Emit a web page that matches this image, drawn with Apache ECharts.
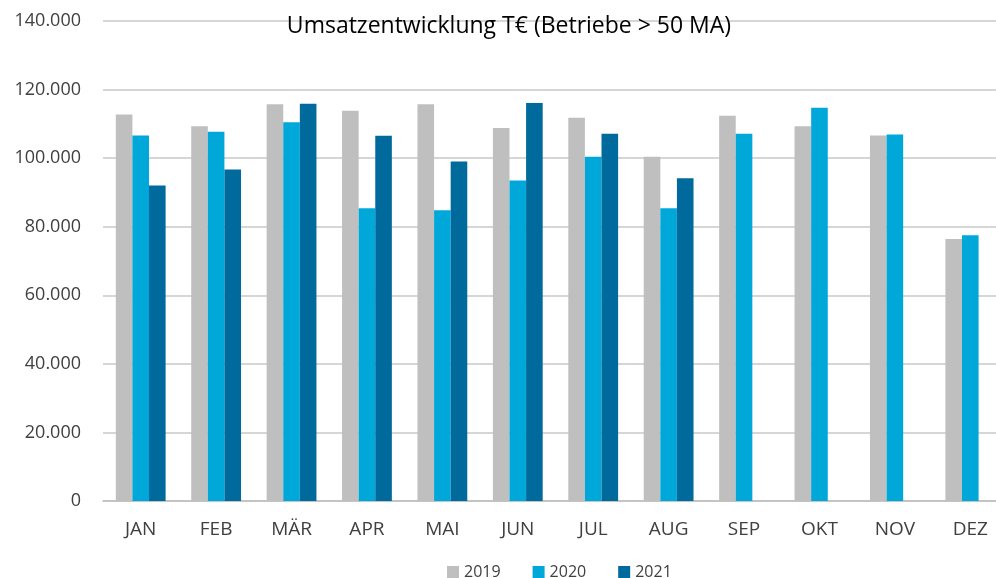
<!DOCTYPE html>
<html>
<head>
<meta charset="utf-8">
<script src="https://cdn.jsdelivr.net/npm/echarts@6/dist/echarts.min.js"></script>
<style>html,body{margin:0;padding:0;background:#fff}#c{width:996px;height:578px}</style>
</head>
<body>
<div id="c"></div>
<script>
const categories = ['JAN','FEB','MÄR','APR','MAI','JUN','JUL','AUG','SEP','OKT','NOV','DEZ'];
const seriesNames = ['2019','2020','2021'];
const values2019 = [112700, 109300, 115700, 113800, 115700, 108800, 111800, 100400, 112400, 109300, 106600, 76400];
const values2020 = [106600, 107700, 110500, 85400, 84800, 93500, 100400, 85400, 107100, 114700, 106900, 77500];
const values2021 = [92000, 96700, 115900, 106500, 99000, 116100, 107100, 94100, null, null, null, null];
const yTicks = {min: 0, max: 140000, interval: 20000};

const font = "'Open Sans', 'Noto Sans', sans-serif";
const colors = ['#bfbfbf', '#00a8da', '#006a9c'];
const chart = echarts.init(document.getElementById('c'));
chart.setOption({
  animation: false,
  title: {
    text: 'Umsatzentwicklung T€ (Betriebe > 50 MA)',
    left: 504, top: 10, textAlign: 'center',
    textStyle: {fontFamily: font, fontSize: 23, fontWeight: 'normal', color: '#000'}
  },
  legend: {
    data: seriesNames, top: 559, left: 442, itemGap: 32,
    itemWidth: 12, itemHeight: 12, icon: 'rect',
    textStyle: {fontFamily: font, fontSize: 16, color: '#404040'}
  },
  grid: {left: 103, top: 21, right: -12, bottom: 77, containLabel: false, outerBoundsMode: 'none'},
  xAxis: {
    type: 'category', data: categories,
    axisLine: {lineStyle: {color: '#bfbfbf', width: 1.5}},
    axisTick: {show: false},
    axisLabel: {fontFamily: font, fontSize: 19, color: '#404040', margin: 19}
  },
  yAxis: {
    type: 'value', min: yTicks.min, max: yTicks.max, interval: yTicks.interval,
    axisLine: {show: false}, axisTick: {show: false},
    splitLine: {lineStyle: {color: '#c8c8c8', width: 1.5}},
    axisLabel: {fontFamily: font, fontSize: 18, color: '#404040', margin: 22,
      formatter: v => v === 0 ? '0' : v.toLocaleString('de-DE')}
  },
  series: [values2019, values2020, values2021].map((d, i) => ({
    name: seriesNames[i], type: 'bar', data: d,
    barWidth: 16.6, barGap: '0%',
    itemStyle: {color: colors[i]}
  }))
});
</script>
</body>
</html>
